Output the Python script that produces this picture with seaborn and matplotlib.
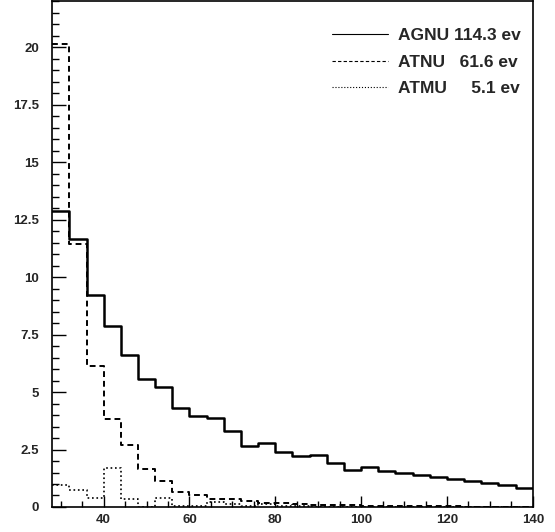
import numpy as np
import seaborn as sns
import matplotlib.pyplot as plt
from matplotlib.lines import Line2D
from matplotlib.ticker import MultipleLocator

# bin edges 28..140, width 4
bin_edges = list(range(28, 141, 4))

agnu = [12.87, 11.67, 9.22, 7.86, 6.62, 5.58, 5.23, 4.32, 3.94, 3.88,
        3.32, 2.65, 2.80, 2.39, 2.23, 2.28, 1.93, 1.61, 1.72, 1.55,
        1.46, 1.39, 1.32, 1.20, 1.12, 1.03, 0.94, 0.84]
atnu = [20.14, 11.42, 6.13, 3.81, 2.68, 1.65, 1.13, 0.66, 0.51, 0.36,
        0.36, 0.26, 0.16, 0.16, 0.12, 0.10, 0.08, 0.08, 0.06, 0.05,
        0.05, 0.04, 0.03, 0.03, 0.02, 0.02, 0.02, 0.02]
atmu = [0.97, 0.72, 0.40, 1.71, 0.34, 0.02, 0.38, 0.04, 0.03, 0.20,
        0.15, 0.05, 0.12, 0.05, 0.03, 0.02, 0.01, 0.01, 0.0, 0.0,
        0.0, 0.0, 0.0, 0.0, 0.0, 0.0, 0.0, 0.0]

labels = ['AGNU 114.3 ev', 'ATNU   61.6 ev', 'ATMU     5.1 ev']

sns.set_style('ticks')
plt.rcParams['font.family'] = ['Liberation Sans', 'DejaVu Sans']

fig = plt.figure(figsize=(5.55, 5.32), dpi=100)
ax = fig.add_axes([0.094, 0.047, 0.866, 0.951])

centers = [(a + b) / 2 for a, b in zip(bin_edges[:-1], bin_edges[1:])]
styles = [('-', 1.8), ((0, (3, 2)), 1.4), (':', 1.2)]
for vals, (ls, lw) in zip([agnu, atnu, atmu], styles):
    sns.histplot(x=centers, weights=vals, bins=bin_edges, element='step',
                 fill=False, color='black', linestyle=ls, linewidth=lw, ax=ax)

ax.set_xlim(28, 140)
ax.set_ylim(0, 22)
ax.set_xlabel('')
ax.set_ylabel('')
ax.xaxis.set_major_locator(MultipleLocator(20))
ax.xaxis.set_minor_locator(MultipleLocator(5))
ax.yaxis.set_major_locator(MultipleLocator(2.5))
ax.yaxis.set_minor_locator(MultipleLocator(0.5))
ax.yaxis.set_major_formatter(plt.FuncFormatter(lambda v, p: f'{v:g}'))
ax.tick_params(which='both', direction='in', width=1, color='black')
ax.tick_params(which='major', labelsize=9.5)
ax.tick_params(axis='y', which='major', length=10, pad=9.5)
ax.tick_params(axis='y', which='minor', length=5)
ax.tick_params(axis='x', which='major', length=8, pad=5)
ax.tick_params(axis='x', which='minor', length=4)
for lab in ax.get_yticklabels():
    lab.set_fontweight('bold')
ax.set_xticks([40, 60, 80, 100, 120, 140])
ax.set_xticklabels(['40', '60', '80', '100', '120', '140'], fontweight='bold')
for sp in ax.spines.values():
    sp.set_linewidth(1.2)
    sp.set_color('black')

handles = [Line2D([], [], color='black', linestyle=ls, linewidth=0.8)
           for ls, lw in styles]
leg = ax.legend(handles, labels, loc='upper right', bbox_to_anchor=(0.975, 0.947),
                frameon=False, handlelength=3.2, handletextpad=0.58,
                labelspacing=0.66, borderpad=0, borderaxespad=0,
                prop={'weight': 'bold', 'size': 12.5})

fig.savefig('out.png', dpi=100)
